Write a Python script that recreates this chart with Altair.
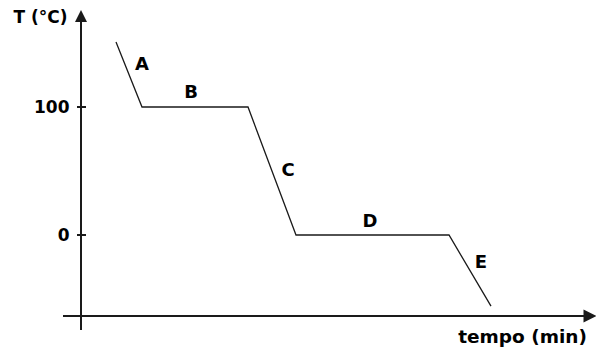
import altair as alt
import pandas as pd

# --- data ---
time_min = [3.5, 6.1, 16.7, 21.5, 36.8, 41.0]
temp_c = [150.8, 100, 100, 0, 0, -55.5]

seg_labels = ["A", "B", "C", "D", "E"]
seg_time = [6.1, 11.0, 20.7, 28.9, 40.0]
seg_temp = [132.8, 110.9, 50.0, 10.2, -21.9]

tick_values = [0, 100]

x_domain = [0, 51.5]
y_domain = [-74.2, 175.8]

# axis lines (crossing axes) in data units
xaxis_from, xaxis_to, xaxis_at = -1.8, 50.3, -63.3
yaxis_from, yaxis_to, yaxis_at = -74.2, 168.0, 0.0
up_arrow_t, up_arrow_T = 0.0, 171.1
right_arrow_t, right_arrow_T = 50.9, -63.3
tick_from, tick_to = -0.4, 0.5

FONT = "DejaVu Sans"
INK = "#1a1a1a"

xs = alt.Scale(domain=x_domain, nice=False, zero=False)
ys = alt.Scale(domain=y_domain, nice=False, zero=False)

curve = pd.DataFrame({"t": time_min, "T": temp_c, "o": list(range(len(time_min)))})
labels = pd.DataFrame({"t": seg_time, "T": seg_temp, "lab": seg_labels})
ticks = pd.DataFrame({"T": tick_values, "t": [tick_from] * 2, "b": [tick_to] * 2})
xaxis = pd.DataFrame({"t": [xaxis_from], "b": [xaxis_to], "T": [xaxis_at]})
yaxis = pd.DataFrame({"T": [yaxis_from], "b": [yaxis_to], "t": [yaxis_at]})
up = pd.DataFrame({"t": [up_arrow_t], "T": [up_arrow_T]})
right = pd.DataFrame({"t": [right_arrow_t], "T": [right_arrow_T]})

X = alt.X("t:Q", scale=xs, axis=alt.Axis(
    labels=False, ticks=False, domain=False, grid=False,
    title="tempo (min)", titleX=441, titleY=12, titleAlign="center",
    titleBaseline="alphabetic", titleFont=FONT, titleFontSize=18.5,
    titleFontWeight="bold", titleColor="black"))
Y = alt.Y("T:Q", scale=ys, axis=alt.Axis(
    values=tick_values, ticks=False, domain=False, grid=False,
    labelPadding=12, labelFont=FONT, labelFontSize=17, labelFontWeight="bold",
    labelColor="black",
    title="T (°C)", titleAngle=0, titleAlign="right", titleBaseline="alphabetic",
    titleX=-14, titleY=12, titleFont=FONT, titleFontSize=17,
    titleFontWeight="bold", titleColor="black"))

line = alt.Chart(curve).mark_line(color=INK, strokeWidth=1.3).encode(
    x=X, y=Y, order="o:Q")

xrule = alt.Chart(xaxis).mark_rule(color=INK, strokeWidth=2).encode(
    x=X, x2="b:Q", y=Y)
yrule = alt.Chart(yaxis).mark_rule(color=INK, strokeWidth=2).encode(
    y=Y, y2="b:Q", x=X)
tickrule = alt.Chart(ticks).mark_rule(color=INK, strokeWidth=2).encode(
    x=X, x2="b:Q", y=Y)

up_arrow = alt.Chart(up).mark_point(shape="M0,-1L1,1L-1,1Z", filled=True, size=144,
                                    color=INK, opacity=1).encode(x=X, y=Y)
right_arrow = alt.Chart(right).mark_point(shape="M1,0L-1,-1L-1,1Z", filled=True, size=169,
                                          color=INK, opacity=1).encode(x=X, y=Y)

text = alt.Chart(labels).mark_text(font=FONT, fontSize=18, fontWeight="bold",
                                   color="black", align="center", baseline="middle").encode(
    x=X, y=Y, text="lab:N")

chart = alt.layer(line, xrule, yrule, tickrule, up_arrow, right_arrow, text).properties(
    width=515, height=320,
    padding={"left": 73, "top": 2, "right": 0, "bottom": 18},
    autosize=alt.AutoSizeParams(type="none"),
    background="white",
).configure_view(stroke=None)

chart.save("out.html", embed_options={"renderer": "svg", "actions": False})
